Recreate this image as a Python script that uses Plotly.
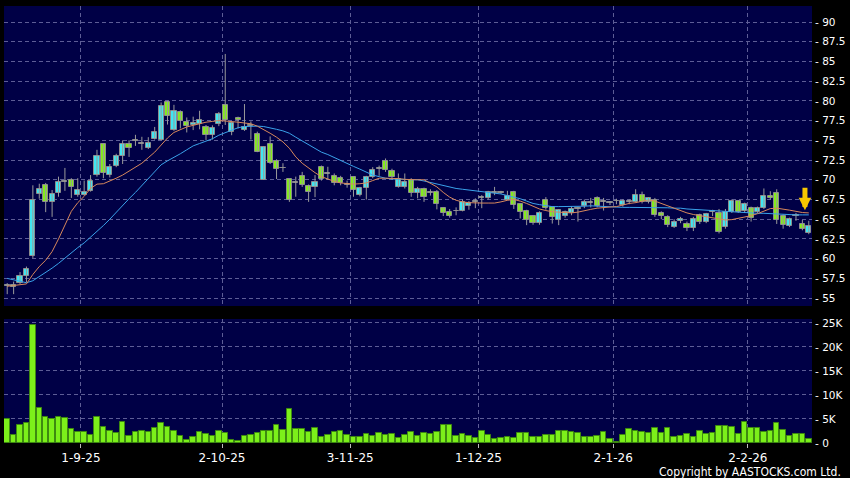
import pandas as pd
import plotly.graph_objects as go

# ---------------- data ----------------
holidays = ["2025-10-01", "2025-10-07", "2025-10-29", "2025-12-25", "2025-12-26", "2026-01-01"]
dates = pd.bdate_range("2025-08-15", "2026-02-16", freq="C", holidays=holidays)

tick_dates = ["2025-09-01", "2025-10-02", "2025-11-03", "2025-12-01", "2026-01-02", "2026-02-02"]
tick_labels = ["1-9-25", "2-10-25", "3-11-25", "1-12-25", "2-1-26", "2-2-26"]

open_ = [56.6, 56.4, 56.9, 57.8, 60.3, 68.2, 69.3, 67.2, 68.35, 69.8,
         70.0, 68.05, 68.05, 68.6, 70.6, 74.5, 70.6, 71.75, 73.0, 74.6,
         75.0, 74.6, 74.0, 75.2, 75.05, 79.8, 76.3, 78.6, 77.35, 77.0,
         77.05, 76.7, 75.65, 77.05, 79.45, 76.1, 77.8, 76.3, 77.0, 75.75,
         70.0, 74.5, 72.4, 71.5, 70.05, 69.7, 70.5, 69.25, 69.05, 71.6,
         70.8, 70.5, 70.2, 69.45, 70.3, 68.05, 68.9, 70.4, 71.4, 72.4,
         71.15, 69.05, 69.05, 70.0, 68.3, 68.8, 68.35, 68.5, 66.4, 65.95,
         66.05, 66.1, 66.7, 67.15, 67.65, 67.65, 68.3, 68.4, 67.5, 68.4,
         66.9, 66.05, 65.35, 64.55, 67.45, 66.5, 64.9, 65.4, 65.75, 66.4,
         66.7, 67.1, 67.65, 67.2, 67.0, 67.3, 66.8, 67.2, 67.2, 68.05,
         67.2, 67.5, 65.75, 65.3, 64.05, 64.75, 64.45, 63.95, 65.5, 64.7,
         65.95, 65.8, 64.05, 65.95, 67.3, 66.05, 66.45, 65.95, 66.45, 67.95,
         68.3, 65.45, 64.2, 65.5, 64.35, 63.2]
high = [56.9, 57.1, 58.3, 59.0, 69.3, 69.5, 69.6, 68.7, 70.4, 71.5,
        70.2, 70.2, 69.9, 70.6, 73.8, 74.6, 72.0, 73.3, 75.0, 75.0,
        75.7, 75.45, 75.4, 76.7, 79.8, 80.0, 79.5, 78.8, 77.9, 78.0,
        78.75, 76.95, 76.9, 78.6, 85.95, 77.4, 78.0, 79.6, 77.4, 76.1,
        74.2, 75.5, 72.6, 72.1, 70.1, 70.4, 71.0, 69.4, 70.6, 71.8,
        71.65, 70.8, 70.5, 69.9, 70.4, 69.1, 70.5, 71.6, 71.8, 72.7,
        71.4, 70.8, 70.8, 70.2, 69.1, 69.0, 68.8, 68.7, 66.5, 66.3,
        66.5, 67.5, 67.3, 67.65, 68.05, 68.6, 69.1, 68.6, 68.6, 68.6,
        67.0, 66.2, 65.5, 66.0, 67.8, 66.6, 66.3, 66.1, 66.6, 66.6,
        67.5, 67.7, 67.9, 67.7, 67.3, 67.6, 67.5, 67.5, 68.8, 68.5,
        67.8, 67.7, 66.0, 65.5, 65.0, 65.3, 64.7, 65.3, 65.7, 65.8,
        66.2, 66.3, 66.3, 67.5, 67.4, 67.1, 66.6, 66.6, 68.9, 68.55,
        68.8, 65.6, 65.2, 65.8, 64.9, 64.8]
low = [55.5, 55.5, 56.8, 57.0, 60.1, 67.6, 65.9, 65.3, 67.85, 68.6,
       67.7, 67.85, 68.0, 68.5, 70.4, 70.2, 70.3, 71.6, 72.0, 72.9,
       74.3, 73.8, 73.9, 75.1, 75.0, 77.0, 76.2, 76.5, 76.0, 76.3,
       76.4, 75.05, 75.1, 76.8, 76.95, 75.65, 76.5, 76.2, 75.1, 73.5,
       70.0, 72.0, 70.1, 71.0, 67.2, 67.85, 69.1, 67.2, 67.8, 69.9,
       70.0, 69.3, 69.3, 69.0, 67.85, 67.9, 67.5, 70.2, 70.5, 71.0,
       70.0, 69.0, 68.9, 67.85, 67.65, 67.2, 68.0, 66.25, 65.4, 65.2,
       65.5, 66.0, 66.2, 66.4, 66.4, 67.5, 68.05, 68.2, 67.4, 66.3,
       65.1, 64.25, 64.3, 64.3, 66.2, 64.45, 64.25, 65.2, 65.5, 64.7,
       66.4, 66.5, 66.5, 66.1, 66.8, 66.9, 66.6, 66.9, 67.1, 67.0,
       67.0, 65.3, 65.0, 64.0, 63.9, 64.5, 63.5, 63.5, 64.4, 64.5,
       65.4, 63.2, 63.8, 65.8, 65.8, 65.9, 64.7, 65.8, 66.3, 67.5,
       64.4, 63.8, 64.0, 64.8, 63.6, 63.1]
close = [56.6, 56.7, 57.8, 58.7, 67.5, 68.8, 67.2, 68.15, 69.75, 69.8,
         69.05, 68.7, 68.5, 69.9, 73.0, 70.8, 71.6, 73.0, 74.6, 74.0,
         75.0, 74.6, 74.7, 76.0, 79.35, 78.1, 78.75, 77.45, 76.8, 77.2,
         77.6, 75.65, 76.55, 78.35, 77.6, 77.2, 77.55, 76.65, 76.8, 73.55,
         74.2, 72.1, 71.4, 71.5, 67.5, 69.7, 69.3, 68.4, 69.75, 70.05,
         70.8, 69.6, 69.65, 69.45, 68.7, 68.9, 70.3, 71.3, 71.4, 71.3,
         70.3, 70.05, 69.75, 68.3, 68.8, 67.8, 68.35, 66.9, 65.8, 65.45,
         66.05, 67.2, 67.1, 67.3, 67.85, 68.5, 68.5, 68.4, 67.95, 66.8,
         65.9, 64.9, 64.55, 65.85, 66.4, 65.25, 66.15, 65.9, 66.25, 66.4,
         67.2, 67.1, 66.7, 67.2, 67.2, 67.3, 67.35, 67.2, 68.05, 67.2,
         67.65, 65.5, 65.4, 64.25, 64.6, 65.0, 63.9, 65.0, 64.7, 65.6,
         65.95, 63.35, 65.95, 67.3, 65.95, 66.9, 65.2, 66.45, 67.95, 67.65,
         64.9, 64.3, 65.05, 65.5, 63.75, 64.1]

ma_short = [56.5, 56.6, 56.7, 56.8, 58.0, 59.0, 59.8, 60.9, 62.5, 64.3,
            66.0, 67.1, 67.9, 68.9, 69.45, 69.5, 69.8, 70.2, 70.6, 71.1,
            71.6, 72.1, 72.8, 73.5, 74.4, 75.3, 76.0, 76.4, 76.7, 76.9,
            77.1, 77.3, 77.4, 77.5, 77.45, 77.4, 77.3, 77.2, 77.1, 76.8,
            76.4, 75.9, 75.4, 74.8, 74.0, 72.9, 72.1, 71.45, 70.9, 70.4,
            70.1, 69.8, 69.6, 69.5, 69.45, 69.5, 69.6, 69.9, 70.2, 70.2,
            70.2, 70.15, 70.05, 70.0, 70.0, 70.0, 69.6, 69.1, 68.4, 67.8,
            67.4, 67.2, 67.1, 67.05, 67.05, 67.05, 67.05, 67.2, 67.4, 67.5,
            67.3, 67.0, 66.6, 66.3, 66.1, 65.95, 65.9, 65.85, 65.8, 65.9,
            66.1, 66.25, 66.4, 66.5, 66.55, 66.6, 66.8, 67.0, 67.1, 67.3,
            67.45, 67.3, 67.0, 66.7, 66.4, 66.0, 65.8, 65.6, 65.45, 65.3,
            65.2, 65.0, 64.9, 64.95, 65.1, 65.25, 65.45, 65.7, 66.0, 66.35,
            66.4, 66.3, 66.15, 66.0, 65.85, 65.8]
ma_long = [57.5, 57.3, 57.1, 56.95, 57.2, 57.7, 58.2, 58.8, 59.4, 60.1,
           60.7, 61.4, 62.0, 62.7, 63.4, 64.2, 65.0, 65.9, 66.7, 67.6,
           68.4, 69.3, 70.2, 71.1, 71.9, 72.4, 72.8, 73.3, 73.8, 74.3,
           74.6, 74.9, 75.2, 75.65, 76.0, 76.3, 76.6, 76.75, 76.8, 76.8,
           76.75, 76.6, 76.4, 76.2, 75.9, 75.4, 74.9, 74.4, 73.9, 73.5,
           73.2, 72.8, 72.4, 72.0, 71.7, 71.35, 71.0, 70.6, 70.4, 70.2,
           70.1, 70.1, 70.05, 70.0, 70.0, 69.85, 69.65, 69.45, 69.25, 69.05,
           68.9, 68.8, 68.7, 68.6, 68.5, 68.4, 68.35, 68.2, 68.0, 67.8,
           67.6, 67.3, 67.0, 66.85, 66.7, 66.6, 66.6, 66.6, 66.6, 66.6,
           66.65, 66.7, 66.65, 66.6, 66.55, 66.5, 66.5, 66.5, 66.5, 66.5,
           66.5, 66.5, 66.45, 66.45, 66.4, 66.4, 66.3, 66.25, 66.2, 66.1,
           66.05, 66.0, 65.95, 65.9, 65.85, 65.8, 65.8, 65.75, 65.75, 65.7,
           65.65, 65.6, 65.55, 65.55, 65.55, 65.55]

volume = [5000, 1700, 3800, 4200, 24600, 7300, 5500, 4900, 5500, 5200,
          2900, 2200, 2200, 1700, 5500, 3300, 2600, 2100, 4400, 1500,
          2300, 2500, 2400, 3200, 4200, 3300, 2600, 1500, 700, 1250,
          2300, 1950, 1500, 2550, 2100, 700, 500, 1500, 1700, 2000,
          2550, 2500, 3750, 2800, 7100, 3000, 3000, 2200, 3100, 1200,
          1700, 2300, 2600, 1700, 1200, 1300, 1800, 1500, 2000, 1600,
          1800, 1000, 1700, 2400, 1500, 2100, 1900, 2200, 3700, 3750,
          1500, 1900, 1400, 1100, 2600, 1700, 800, 1000, 1250, 1000,
          2100, 2100, 1250, 1250, 1700, 1700, 2600, 2500, 2300, 2150,
          1300, 1300, 1500, 2400, 800, 150, 1700, 2900, 2600, 2400,
          2100, 3100, 2100, 3200, 1250, 1400, 1900, 1300, 2600, 1950,
          2100, 3500, 3600, 3400, 1900, 4400, 3100, 3100, 2400, 2600,
          4200, 2800, 1400, 1950, 1900, 750]

price_ticks = [55, 57.5, 60, 62.5, 65, 67.5, 70, 72.5, 75, 77.5, 80, 82.5, 85, 87.5, 90]
vol_ticks = [0, 5000, 10000, 15000, 20000, 25000]
vol_tick_labels = ["0", "5K", "10K", "15K", "20K", "25K"]

# ---------------- styling ----------------
UP = "#40e6f2"
DOWN = "#84ec1c"
FLAT = "#9a9a9a"
EDGE = "#8c8c8c"
GRID = "#5d5d96"
FONT = "DejaVu Sans"

x = list(range(len(dates)))
date_str = [d.strftime("%Y-%m-%d") for d in dates]
tick_pos = [date_str.index(d) + 0.5 for d in tick_dates]

body_base, body_len, body_col = [], [], []
for o, c in zip(open_, close):
    if c > o:
        body_base.append(o); body_len.append(c - o); body_col.append(UP)
    elif c < o:
        body_base.append(c); body_len.append(o - c); body_col.append(DOWN)
    else:
        body_base.append(o - 0.05); body_len.append(0.1); body_col.append(FLAT)

wx, wy = [], []
for i, h, l in zip(x, high, low):
    wx += [i, i, None]
    wy += [l, h, None]

fig = go.Figure()

fig.add_trace(go.Scatter(x=wx, y=wy, mode="lines", line=dict(color="#9a9a9a", width=1),
                         xaxis="x2", yaxis="y", hoverinfo="skip"))
fig.add_trace(go.Bar(x=x, y=body_len, base=body_base, width=0.8,
                     marker=dict(color=body_col, line=dict(color=EDGE, width=1)),
                     xaxis="x2", yaxis="y"))
fig.add_trace(go.Scatter(x=x, y=ma_long, mode="lines", line=dict(color="#3aa2ea", width=1),
                         xaxis="x2", yaxis="y"))
fig.add_trace(go.Scatter(x=x, y=ma_short, mode="lines", line=dict(color="#d8885c", width=1),
                         xaxis="x2", yaxis="y"))

fig.add_trace(go.Bar(x=x, y=volume, width=0.86,
                     marker=dict(color="#7cf01a", line=dict(color="#3e8a10", width=1)),
                     xaxis="x", yaxis="y2"))

grid_common = dict(showgrid=True, gridcolor=GRID, griddash="4px,3px", gridwidth=1,
                   zeroline=False, showline=False)

fig.update_layout(
    width=850, height=478,
    paper_bgcolor="black", plot_bgcolor="#000046",
    margin=dict(l=4, r=36, t=6, b=35),
    showlegend=False, bargap=0,
    xaxis=dict(domain=[0, 1], anchor="y2", range=[-0.5, len(x) - 0.5],
               tickvals=tick_pos, ticktext=tick_labels,
               ticks="outside", ticklen=4, tickcolor="#bbbbbb",
               tickfont=dict(color="white", size=12, family=FONT), **grid_common),
    xaxis2=dict(domain=[0, 1], anchor="y", matches="x", range=[-0.5, len(x) - 0.5],
                tickvals=tick_pos, showticklabels=False, ticks="", **grid_common),
    yaxis=dict(domain=[0.3135, 1], anchor="x2", side="right", range=[54.0, 92.03],
               tickvals=price_ticks, ticktext=["- " + f"{t:g}" for t in price_ticks],
               ticks="", ticklabelstandoff=2,
               tickfont=dict(color="white", size=10.5, family=FONT), **grid_common),
    yaxis2=dict(domain=[0, 0.2838], anchor="x", side="right", range=[0, 25830],
                tickvals=vol_ticks, ticktext=["- " + t for t in vol_tick_labels],
                ticks="", ticklabelstandoff=2,
                tickfont=dict(color="white", size=10.5, family=FONT), **grid_common),
)

fig.add_annotation(x=len(x) - 1.6, y=66.15, xref="x2", yref="y", ax=0, ay=-24,
                   showarrow=True, arrowhead=2, arrowwidth=5, arrowsize=0.5,
                   arrowcolor="#f7c600", text="")

fig.add_annotation(x=1.0383, y=-0.067, xref="paper", yref="paper",
                   xanchor="right", yanchor="middle", showarrow=False,
                   text="Copyright by AASTOCKS.com Ltd.",
                   font=dict(color="white", size=12, family="Liberation Sans Narrow, DejaVu Sans Condensed, Liberation Sans"))

fig.write_html("out.html", config={"displayModeBar": False},
               post_script="document.body.style.margin='0px';document.body.style.padding='0px';")
